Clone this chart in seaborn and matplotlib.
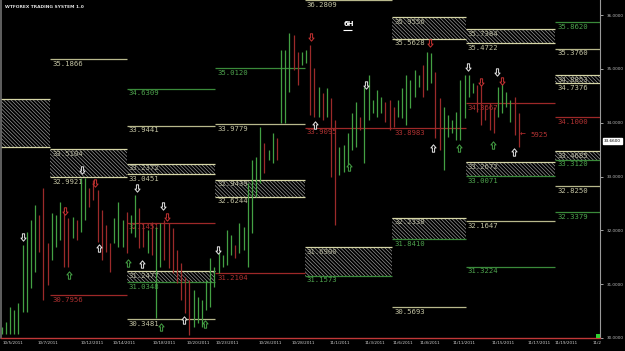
import matplotlib
matplotlib.use("Agg")
import matplotlib.pyplot as plt
import seaborn as sns
import pandas as pd
from matplotlib.patches import Rectangle
from matplotlib.path import Path

# ---------------- data ----------------
high = [30.20, 30.29, 30.57, 30.52, 30.65, 31.73, 31.97, 32.19, 32.47, 32.28,
        32.78, 31.76, 32.32, 32.28, 32.52, 32.41, 32.23, 32.25, 32.19, 32.97,
        32.97, 32.78, 32.93, 32.75, 32.38, 32.10, 31.76, 32.23, 32.52, 32.19,
        32.34, 32.28, 32.65, 32.41, 32.13, 32.00, 32.15, 32.06, 32.13, 32.19,
        32.13, 32.04, 31.63, 31.39, 31.13, 31.07, 30.89, 30.76, 30.70, 31.07,
        31.48, 31.32, 31.63, 31.54, 32.00, 31.91, 31.73, 32.13, 32.06, 32.88,
        33.31, 33.36, 33.92, 33.62, 33.49, 33.81, 33.71, 35.35, 35.35, 35.67,
        35.63, 35.31, 35.31, 35.35, 35.44, 35.02, 34.66, 34.55, 34.64, 34.46,
        34.05, 33.55, 33.58, 33.81, 34.18, 34.38, 34.10, 34.66, 34.89, 34.42,
        34.61, 34.48, 34.38, 34.42, 34.29, 34.42, 34.64, 34.89, 34.79, 34.98,
        34.89, 35.07, 35.31, 35.29, 34.94, 34.46, 34.29, 34.14, 34.05, 34.20,
        34.79, 34.89, 34.89, 34.74, 34.70, 34.74, 34.33, 34.37, 34.29, 34.66,
        34.76, 34.57, 34.42, 34.48, 34.18]
low = [30.07, 30.07, 30.07, 30.07, 30.07, 30.48, 30.48, 30.93, 31.22, 31.60,
       30.70, 30.98, 31.45, 31.69, 31.82, 31.32, 31.32, 31.86, 31.82, 31.97,
       32.19, 32.43, 32.56, 31.78, 31.45, 31.60, 31.22, 31.76, 31.69, 31.69,
       31.58, 31.95, 31.87, 31.67, 31.69, 31.58, 31.54, 30.37, 31.32, 31.45,
       31.30, 31.21, 31.02, 30.70, 30.46, 30.05, 30.20, 30.28, 30.20, 30.52,
       30.57, 30.95, 31.21, 31.32, 31.35, 31.54, 31.48, 31.58, 31.63, 31.32,
       31.95, 32.62, 32.88, 33.06, 33.31, 33.25, 33.31, 33.99, 33.99, 34.57,
       34.98, 34.70, 35.07, 35.11, 34.14, 34.11, 34.11, 34.05, 34.11, 32.99,
       32.10, 33.03, 33.08, 33.18, 33.49, 33.55, 33.86, 33.25, 34.05, 34.18,
       34.11, 34.18, 34.01, 33.86, 33.92, 34.11, 34.09, 33.96, 34.27, 34.48,
       34.66, 34.48, 34.61, 34.74, 33.71, 33.49, 33.12, 33.73, 33.81, 33.68,
       33.68, 34.09, 34.48, 34.55, 34.20, 33.96, 34.05, 33.86, 33.81, 34.11,
       34.18, 34.29, 34.01, 33.77, 33.55]
direction = list("ggggggggg" "rrrgggrrgrg" "grrrrrrggg" "rggrrgrggr" "rrrrrrgggg"
                 "ggggggrggg" "gggrggrggg" "rrggrrgrgr" "rgggggrggg" "ggrrrggggg"
                 "grggrrgggg" "ggggrrrrrg" "gggrr")

date_labels = ["10/5/2011", "10/7/2011", "10/12/2011", "10/14/2011", "10/18/2011",
               "10/20/2011", "10/23/2011", "10/26/2011", "10/28/2011", "11/1/2011",
               "11/3/2011", "11/6/2011", "11/8/2011", "11/11/2011", "11/15/2011",
               "11/17/2011", "11/19/2011", "11/2"]
date_bar = [0.3, 8.7, 18.8, 26.7, 36.3, 44.4, 51.2, 61.5, 69.6, 78.7,
            87.1, 93.8, 100.3, 108.2, 117.6, 126.0, 132.7, 141.8]

# weekly level blocks (bar index where each block begins)
block_start = [-20, 11.6, 30.0, 51.2, 72.7, 93.6, 111.3, 132.7, 143.48]

line_block = [1, 1, 2, 2, 2, 2, 3, 3, 3, 4, 4, 5, 5, 6, 6, 6, 7, 7, 7, 7, 7]
line_value = [35.1866, 30.7956, 34.6309, 33.9441, 32.1451, 30.3481, 35.0120, 33.9779,
              31.2104, 36.2809, 33.9095, 33.8983, 30.5693, 34.3667, 32.1647, 31.3224,
              35.8620, 35.3760, 34.1000, 32.8250, 32.3379]
line_kind = ["pivot", "sell", "buy", "pivot", "sell", "pivot", "buy", "pivot", "sell",
             "pivot", "sell", "sell", "pivot", "sell", "pivot", "buy", "buy", "pivot",
             "sell", "pivot", "buy"]

zone_block = [0, 1, 2, 2, 3, 4, 5, 5, 6, 6, 7, 7]
zone_top = [34.44, 33.5104, 33.2372, 31.2477, 32.9439, 31.6900, 35.9556, 32.2338,
            35.7384, 33.2672, 34.8853, 33.4685]
zone_bottom = [33.55, 32.9921, 33.0451, 31.0348, 32.6244, 31.1573, 35.5628, 31.8410,
               35.4722, 33.0071, 34.7376, 33.3120]
zone_bottom_kind = ["pivot", "pivot", "pivot", "buy", "pivot", "buy", "pivot", "buy",
                    "pivot", "buy", "pivot", "buy"]

arrow_bar = [5.1, 16.1, 15.2, 19.3, 22.4, 23.3, 30.3, 33.6, 32.4, 38.7, 39.6, 43.7,
             38.3, 48.8, 51.9, 74.2, 75.1, 83.3, 87.4, 102.7, 103.4, 109.7, 111.8,
             114.9, 118.8, 120.0, 117.8, 122.9]
arrow_price = [31.87, 31.17, 32.36, 33.12, 32.88, 31.67, 31.39, 31.37, 32.79, 32.45,
               32.25, 30.33, 30.20, 30.26, 31.63, 35.59, 33.96, 33.18, 34.70, 35.48,
               33.53, 33.53, 35.03, 34.76, 34.94, 34.77, 33.58, 33.45]
arrow_dir = ["d", "u", "d", "d", "d", "u", "u", "u", "d", "d", "d", "u", "u", "u",
             "d", "d", "u", "u", "d", "d", "u", "u", "d", "d", "d", "d", "u", "u"]
arrow_kind = ["w", "g", "r", "w", "r", "w", "g", "w", "w", "w", "r", "w", "g", "g",
              "w", "r", "w", "g", "w", "r", "w", "g", "w", "r", "w", "r", "g", "w"]

axis_prices = [30, 31, 32, 33, 34, 35, 36]
current_price = 33.66

# ---------------- style ----------------
sns.set_style("dark", {"axes.facecolor": "black", "figure.facecolor": "black"})
plt.rcParams["font.family"] = ["DejaVu Sans"]
plt.rcParams["hatch.linewidth"] = 0.45

kind_line = {"pivot": "#b8b88c", "buy": "#3a8a3a", "sell": "#9e2828"}
kind_text = {"pivot": "#c4c4a4", "buy": "#4ea44e", "sell": "#b03232"}
bar_col = {"g": "#43a043", "r": "#9c2a2a"}
arrow_col = {"w": "#e6e6e6", "g": "#45a045", "r": "#c83232"}
zone_edge = "#d6d6a6"
mono = "DejaVu Sans Mono"

up_arrow = Path([(0, 1), (-0.7, 0.15), (-0.3, 0.15), (-0.3, -1), (0.3, -1),
                 (0.3, 0.15), (0.7, 0.15), (0, 1)], closed=True)
down_arrow = Path([(0, -1), (-0.7, -0.15), (-0.3, -0.15), (-0.3, 1), (0.3, 1),
                   (0.3, -0.15), (0.7, -0.15), (0, -1)], closed=True)

df = pd.DataFrame({"bar": range(len(high)), "high": high, "low": low, "dir": direction})
arrows = pd.DataFrame({"bar": arrow_bar, "price": arrow_price, "dir": arrow_dir,
                       "kind": arrow_kind})

fig = plt.figure(figsize=(6.25, 3.51), dpi=100, facecolor="black")
ax = fig.add_axes([1 / 625, 13 / 351, 599 / 625, 338 / 351])
ax.set_facecolor("black")
ax.set_xlim(-0.17, 143.48)
ax.set_ylim(30.0, 36.28)
ax.grid(False)

# zones
for b, t, btm, bk in zip(zone_block, zone_top, zone_bottom, zone_bottom_kind):
    x0, x1 = block_start[b], block_start[b + 1]
    ax.add_patch(Rectangle((x0, btm), x1 - x0, t - btm, facecolor="black",
                           edgecolor="#a4a4a4", hatch="\\" * 9, lw=0, zorder=1))
    ax.hlines(t, x0, x1, color=zone_edge, lw=0.9, zorder=2)
    ax.hlines(btm, x0, x1, color=kind_line[bk] if bk == "buy" else zone_edge, lw=0.9, zorder=2)
    ax.annotate(f"{t:.4f}", (x0, t), xytext=(1.5, -1.2), textcoords="offset points",
                ha="left", va="top", fontsize=5.2, family=mono, color="#b8b8a0",
                zorder=3, annotation_clip=True)
    ax.annotate(f"{btm:.4f}", (x0, btm), xytext=(1.5, -1.2), textcoords="offset points",
                ha="left", va="top", fontsize=5.2, family=mono,
                color=kind_text[bk], zorder=3, annotation_clip=True)

# lines
for b, v, k in zip(line_block, line_value, line_kind):
    x0, x1 = block_start[b], block_start[b + 1]
    ax.hlines(v, x0, x1, color=kind_line[k], lw=0.9, zorder=2)
    ax.annotate(f"{v:.4f}", (x0, v), xytext=(1.5, -1.2), textcoords="offset points",
                ha="left", va="top", fontsize=5.2, family=mono, color=kind_text[k],
                zorder=3, annotation_clip=False)

# price bars
for d, sub in df.groupby("dir"):
    ax.vlines(sub["bar"], sub["low"], sub["high"], color=bar_col[d], lw=0.9, zorder=4)

# signal arrows (outlined block arrows)
for (dr, k), sub in arrows.groupby(["dir", "kind"]):
    sns.scatterplot(data=sub, x="bar", y="price", ax=ax,
                    marker=up_arrow if dr == "u" else down_arrow, s=28,
                    facecolor="black", edgecolor=arrow_col[k], linewidth=0.7,
                    zorder=5, legend=False)

ax.text(124.8, 33.77, "\u2190", ha="center", va="center", fontsize=5, color="#c03030", zorder=5)
ax.text(126.7, 33.77, "5925", ha="left", va="center", fontsize=5.2, family=mono,
        color="#b03232", zorder=5)

# titles
ax.text(0.006, 0.985, "WTFOREX TRADING SYSTEM 1.0", transform=ax.transAxes, ha="left",
        va="top", fontsize=3.2, fontweight="bold", color="#e0e0e0")
ax.text(82.0, 35.83, "6H", ha="left", va="center", fontsize=5, fontweight="bold",
        color="white", zorder=5)
ax.hlines(35.73, 81.9, 83.9, color="white", lw=0.8, zorder=5)

# axes decoration
ax.set_xlabel("")
ax.set_ylabel("")
ax.yaxis.tick_right()
ax.set_yticks(axis_prices)
ax.set_yticklabels([f"{v:.4f}" for v in axis_prices])
ax.tick_params(axis="y", colors="#bdbdbd", labelsize=3.0, length=2.5, width=0.6, pad=2,
               right=True, labelright=True, left=False, labelleft=False)
ax.set_xticks(date_bar)
ax.set_xticklabels(date_labels, ha="left")
ax.tick_params(axis="x", colors="#d0d0d0", labelsize=3.0, length=0, pad=2.2)
ax.set_xlim(-0.17, 143.48)
ax.set_ylim(30.0, 36.28)

ax.spines["top"].set_visible(False)
ax.spines["right"].set_color("#9a9a9a")
ax.spines["right"].set_linewidth(0.8)
ax.spines["left"].set_color("#707070")
ax.spines["left"].set_linewidth(1.2)
ax.spines["bottom"].set_color("#c03838")
ax.spines["bottom"].set_linewidth(1.0)
ax.spines["bottom"].set_linestyle((0, (1.5, 1)))

ax.annotate(f"{current_price:.4f}", (1.0, current_price), xycoords=("axes fraction", "data"),
            xytext=(3, 0), textcoords="offset points", ha="left", va="center",
            fontsize=3.0, color="black",
            bbox=dict(boxstyle="square,pad=0.25", facecolor="white", edgecolor="white"))
ax.add_patch(Rectangle((0.993, 0.0), 0.007, 0.012, transform=ax.transAxes,
                       facecolor="#30d030", edgecolor="none", zorder=6, clip_on=False))

fig.savefig("out.png", dpi=100, facecolor="black")
